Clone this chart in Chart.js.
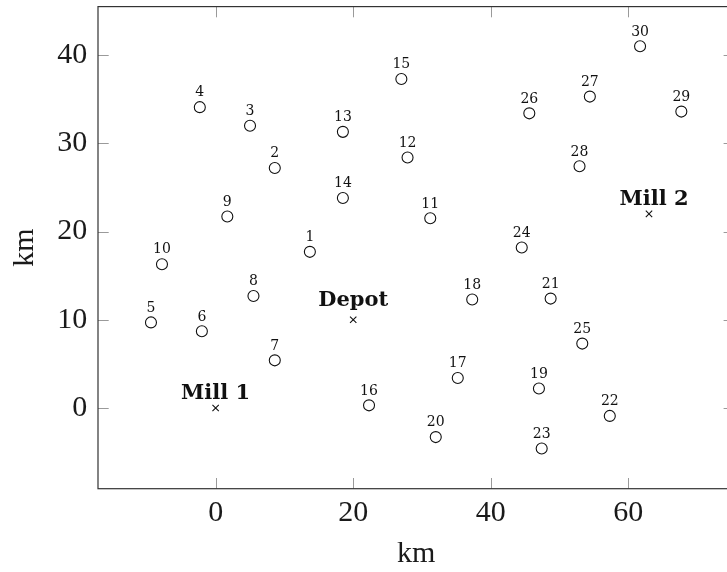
<!DOCTYPE html>
<html><head><meta charset="utf-8">
<script src="https://cdn.jsdelivr.net/npm/chart.js@4/dist/chart.umd.min.js"></script>
<style>
html,body{margin:0;padding:0;background:#fff;overflow:hidden;width:727px;height:572px}
#wrap{position:relative;width:745px;height:572px}
</style>
</head><body><div id="wrap"><canvas id="c" width="745" height="572"></canvas></div>
<script>
// ---- data ----
const customerIds = ['1','2','3','4','5','6','7','8','9','10','11','12','13','14','15','16','17','18','19','20','21','22','23','24','25','26','27','28','29','30'];
const customerX = [13.7, 8.6, 5.0, -2.3, -9.4, -2.0, 8.6, 5.5, 1.7, -7.8, 31.2, 27.9, 18.5, 18.5, 27.0, 22.3, 35.2, 37.3, 47.0, 32.0, 48.7, 57.3, 47.4, 44.5, 53.3, 45.6, 54.4, 52.9, 67.7, 61.7];
const customerY = [17.7, 27.2, 32.0, 34.1, 9.7, 8.7, 5.4, 12.7, 21.7, 16.3, 21.5, 28.4, 31.3, 23.8, 37.3, 0.3, 3.4, 12.3, 2.2, -3.3, 12.4, -0.9, -4.6, 18.2, 7.3, 33.4, 35.3, 27.4, 33.6, 41.0];
const siteNames = ['Depot', 'Mill 1', 'Mill 2'];
const siteX = [20, 0, 63];
const siteY = [10, 0, 22];
const xTicks = [0, 20, 40, 60];
const yTicks = [0, 10, 20, 30, 40];
const xTitle = 'km';
const yTitle = 'km';

// ---- chart ----
const pointsOf = (xs, ys) => xs.map((x, i) => ({x: x, y: ys[i]}));
const tickFont = {family: 'Liberation Serif', size: 30};

const labelPlugin = {
  id: 'ptLabels',
  afterDatasetsDraw(chart) {
    const ctx = chart.ctx;
    chart.data.datasets.forEach((ds, i) => {
      const meta = chart.getDatasetMeta(i);
      ctx.save();
      ctx.font = ds.labelFont;
      ctx.fillStyle = '#111';
      ctx.textAlign = 'center';
      ctx.textBaseline = 'alphabetic';
      meta.data.forEach((el, j) => {
        const t = ds.pointLabels[j];
        const m = ctx.measureText(t);
        const dx = (ds.labelDx && ds.labelDx[t]) || 0;
        ctx.fillText(t, el.x + dx, el.y - ds.labelGap - Math.max(0, m.actualBoundingBoxDescent));
      });
      ctx.restore();
    });
  }
};

const framePlugin = {
  id: 'frame',
  beforeDatasetsDraw(chart) {
    const {ctx, chartArea: a, scales: {x, y}} = chart;
    const L = 10.7;
    ctx.save();
    ctx.strokeStyle = '#9a9a9a';
    ctx.lineWidth = 1;
    ctx.beginPath();
    xTicks.forEach(v => {
      const px = Math.round(x.getPixelForValue(v)) + 0.5;
      ctx.moveTo(px, a.bottom); ctx.lineTo(px, a.bottom - L);
      ctx.moveTo(px, a.top); ctx.lineTo(px, a.top + L);
    });
    yTicks.forEach(v => {
      const py = Math.round(y.getPixelForValue(v)) + 0.5;
      ctx.moveTo(a.left, py); ctx.lineTo(a.left + L, py);
      ctx.moveTo(a.right, py); ctx.lineTo(a.right - L, py);
    });
    ctx.stroke();
    ctx.strokeStyle = '#333';
    ctx.lineWidth = 1.2;
    ctx.strokeRect(a.left, a.top, a.right - a.left, a.bottom - a.top);
    ctx.restore();
  }
};

new Chart(document.getElementById('c'), {
  type: 'scatter',
  data: {
    datasets: [
      {
        data: pointsOf(customerX, customerY),
        pointStyle: 'circle', pointRadius: 5.5, pointBorderWidth: 1.1,
        pointBorderColor: '#111', pointBackgroundColor: 'rgba(255,255,255,0)',
        pointLabels: customerIds, labelFont: '14px "DejaVu Serif"', labelGap: 10.7
      },
      {
        data: pointsOf(siteX, siteY),
        pointStyle: 'crossRot', pointRadius: 4.5, pointBorderWidth: 1.1,
        pointBorderColor: '#111',
        pointLabels: siteNames, labelFont: 'bold 21px "DejaVu Serif"', labelGap: 9.4,
        labelDx: {'Mill 2': 5}
      }
    ]
  },
  options: {
    responsive: false, animation: false, devicePixelRatio: 1,
    layout: {padding: {top: 4, right: 10.7, left: 0, bottom: 0}},
    plugins: {legend: {display: false}, tooltip: {enabled: false}},
    scales: {
      x: {
        type: 'linear', min: -17.1, max: 75.4,
        afterFit: s => { s.height = 83.3; s.paddingLeft = 0; s.paddingRight = 0; },
        afterBuildTicks: s => { s.ticks = xTicks.map(v => ({value: v})); },
        grid: {display: false, drawTicks: false}, border: {display: false},
        ticks: {font: tickFont, color: '#1a1a1a', padding: 6, maxRotation: 0},
        title: {display: true, text: xTitle, font: tickFont, color: '#1a1a1a', padding: {top: 0, bottom: 0}}
      },
      y: {
        type: 'linear', min: -9.15, max: 45.5,
        afterFit: s => { s.width = 98; s.paddingTop = 0; s.paddingBottom = 0; },
        afterBuildTicks: s => { s.ticks = yTicks.map(v => ({value: v})); },
        grid: {display: false, drawTicks: false}, border: {display: false},
        ticks: {font: tickFont, color: '#1a1a1a', padding: 10.7},
        title: {display: true, text: yTitle, font: tickFont, color: '#1a1a1a', padding: {top: 7, bottom: 0}}
      }
    }
  },
  plugins: [framePlugin, labelPlugin]
});
</script>
</body></html>
